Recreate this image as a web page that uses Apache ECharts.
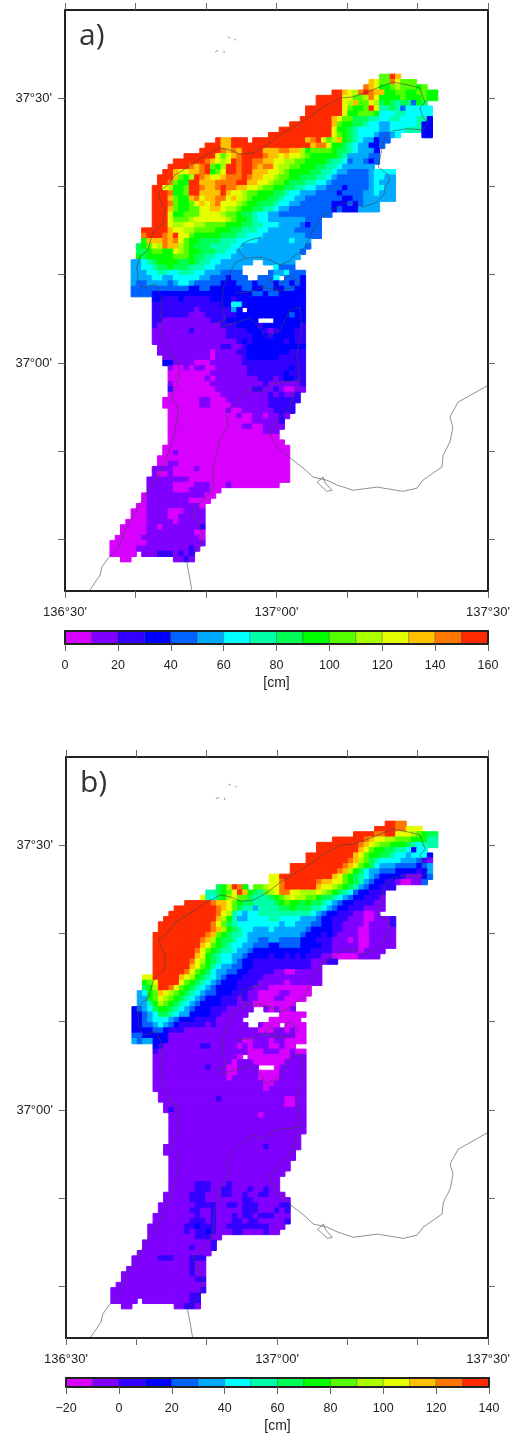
<!DOCTYPE html>
<html><head><meta charset="utf-8">
<style>html,body{margin:0;padding:0;background:#fff}#c{width:513px;height:1434px}</style>
<script src="https://cdn.jsdelivr.net/npm/echarts@6/dist/echarts.min.js"></script>
</head><body><div id="c"></div>
<script>
// class colours, 10 cm wide each
const palette = ['#d800ff','#8000ff','#3300ff','#0000ff','#0062ff','#00aaff','#00ffff','#00ffaa','#00ff55','#00ff00','#55ff00','#aaff00','#e6ff00','#ffc000','#ff7700','#ff2a00'];
// rows north to south: "first column : class of each cell"; x{n} = n repeats, '.' = no data
const rowsA = [
"60:aafd","58:dcaaecaaa","57:edc99abaaa9a","51:ffdcbefedd99aa99aa99","48:f{5}ccaabec9999a999a99","48:f{5}cbdaacb898788498",
"46:f{7}ca99afc77874 66666","46:f{7}c99aaa9666776{5}","45:f{6}dcaa888776677666773","43:f{8}da99887665566666733","41:f{10}c998766665566677733",
"39:f{12}ca98766654456....33","29:fddfff.f{10}defcabd987655 3 44","27:fffddf{14}fdeec99876553 34","26:ffffededffffdddeeddb9aaaa988765553",
"23:f{6}cacdeffffeddcdccba99999875555 44","21:f{6}edcbcfeffeeddccbbaa99998776455 434","20:ffffedefa9bffeffedeecbbaa9998877 65{6}",
"19:ffdccddef9acffeffdddccba9999887765544445 6666","18:fffda9bfedccdeeefeddccbaa998887765444444566 55","18:ffea99ffdddeeeeffddccbaa988877665444444456555",
"17:ffcb99affeddefeeddccbaa9988776655444 34444566 55","17:fffe99affddddfdccbaa9998876655544443444455 6555","17:fffda99decddeecdcba99988 7665544444443344555555",
"17:fffea99acdcdecccba9988876655444444333434555","17:fffda99aaccddcbba998877655444444443433 35555","17:fffc99aaaccccbaa98876655444444444 4",
"17:fffcaaabcccccc ba99876655555554 44","17:fffcbbccbbaaaa99988776665555 4344","15:f{5}dccbbaaaa99988777665555 544444","15:efffedfcc a 99999 888 77 666 5{8} 444",
"15:9dddedeca99888877766665{6}65 55","14:89acbeddba98887777665{12}4","14:889aa99cba99888776 65{12}4","14:9899999aaa98877666 5{13}",
"13:556789999889877665{6}..5{6}","13:55667889888777665{5}......6444","13:555667766777 66555 4444.....4556444","13:555566556666655 4443444..4446.4443",
"13:5445555 45665 44444 333 444 3 444 3 44 3 4 3","13:4{11}33443{6}44334433 4433","13:44443{19}44344 33333","17:33222322222333323{13}",
"17:2{13}33663{12}","17:2{8}12{6}53.3{11}","17:2{7}1112{6}3{10}433","17:221{9}2223{6}...3{6}","17:21{12}22233332 3{7}2","17:1{7}21{6}222233321233322",
"17:1{14}2{5}3332 33332 2","17:1{16}2323{6}2322","18:1{12}221123{11}","18:1{10}0111122 3{8}222","19:1{9}01{5}23{6}2{5}","19:33111100 01{6}2{12}",
"20:1001011001{6}2{8}322","20:0{8}1{7}2{7}3222","20:0{7}101{8}222123322","20:10{7}1{10}21{6}2","20:20{8}1{7}22112100 11","20:0{10}1{9}21211 2",
"19:0{7}110001{8}2{6}","19:0{7}110{4}1{7}2{5}","20:0{11}1001{6}2222","20:0{13}1001101 121","20:0{16}1{5}2","20:0{14}11001111","20:0{18}111","20:0{21}",
"20:0{22}","19:0{24}","19:0010{21}","18:0{25}","18:00110{21}","17:11110{4}10{17}","17:10010{22}","16:1{8}0{19}","16:1{5}0{4}1110001 0{9}",
"16:1{5}000111100","15:01{11}00","15:01{8}0{4}","14:001{10}0","13:00011110001111","13:00011110011111","12:00001{5}01{5}","11:0{5}1101{7}2",
"11:0{5}1{9}00","10:0{5}1{11}0","9:0{7}1{11}","9:0{5}1{10}21","9:0{5}.111222121 2","11:00........1121"
];
const rowsB = [
"61:ffee","59:ffffeeccc","55:ffffeeffcccba988","51:f{6}edccbbaaa99977","48:f{8}edcbaa99987 6777","48:f{8}dca99887 76366","46:f{9}dca9988766566 63",
"46:f{8}edba8766665554 21","43:f{10}edca986 555444434 5","43:f{9}edb986 554443333235","39:ccf{10}dca98765433332111 34","39:cce f{6}eddcca98754332210011 4",
"29:89bfe9.aabcce f{6}dccba987543 32 22","27:77 89acfd987abceeccbbbcba98764 33222","26:c768 9bcaa87778 9abcbbaa98876543 32221","23:f{5}eddca98877778 9a9989887 654332 22211",
"21:f{8}edca8775 77778 8988877654332221111","20:f{9}ecb76 566 7{10}654332221 1001","19:f{10}db97556666776666555433222111001112","18:f{10}eca87 6{8}566555443322 11110 11112",
"18:f{10}edb98766555 65{6}4333322111001{5}","17:f{10}eda98776 5{10}43332321 1110 01{5}","17:f{9}edb988766 55 44 55 4444 333 222 111 0 1 00 1{5}","17:f{9}dca9876655 444 33 4444 3333 22 11111 00 11111",
"17:f{8}eca98776554 3{11}2222111110 1111","17:f{8}dc98766554 3333233232 322211 000001111","17:f{7}ecb98 76654332{11}11122","17:f{7}dca97 65544332{11}11","17:f{6}eca986 554433 2{5}11001{5}",
"15:ccf{5}dcb9876 54333 22221{11}","15:9acffffca98765 4333 22221{5}01{6}","15:89bffeca98765 4333 322211 10{8}","14:569adcba98765 44333 22211000011 0000","14:559acba98 765433322212110 00110000","14:5579 ba98765 43333 222111 0{8}",
"13:34568 9987654 33322211111..10100 1","13:33456887655 3333221 1111......00000","13:33456665433322221 1111.....000000","13:33445654322222 121 11111..1000.0000","13:33334432221{14}00011 0100",
"13:44333331{24}00","13:54553331{14}001110110000","17:321{7}221{5}01011100 100","17:21{17}0001110 0100","17:1{16}0.0{8}111","17:1{15}0 1110{6}1111","17:1{10}211100 1111...01{5}","17:1{14}0011110 0001{5}","17:1{14}01{5}00001{5}",
"17:1{21}001{6}","17:1{21}01{7}","18:1{28}","18:1{11}21{12}0011","19:1{23}0011","19:121{25}","20:1{17}01{8}","20:1{26}","20:1{26}","20:1{26}","20:1{25}","20:1{25}","19:1{19}21{6}","19:1{25}","20:1{24}","20:1{23}","20:1{23}","20:1{22}","20:1{21}",
"20:1{5}2221 112 1{9}","20:1{5}222112 2111 2112 11","19:1{5}22211122112112211 1","19:1{5}2221{7}221{7}","18:1{7}22221122122 211 1122","18:1{6}22112 1{5}2221 1121 2","17:1{8}2112 1112 122 122 2111","17:1{7}2221 21112 212 21{5}2",
"16:1{7}2232 2211 2{8}111","16:1{7}212 232 1112 211112 11","16:1{9}22211","15:1{13}2","15:1{9}21112","14:1{14}","13:1{5}222111222","13:1{11}211","12:1{12}211","11:1{13}211","11:1{14}22","10:1{17}","9:1{17}2","9:1{15}22","9:1{5}.1{9}22","11:11........11221"
];
// coastline and boundary polylines, [longitude, latitude]
const westCoast = [[136.557,36.570],[136.583,36.600],[136.587,36.615],[136.602,36.632],[136.611,36.638],[136.630,36.657],[136.642,36.685],[136.670,36.723],[136.694,36.757],[136.720,36.785],[136.741,36.823],[136.760,36.868],[136.767,36.906],[136.765,36.921],[136.753,36.930],[136.753,36.940],[136.762,36.955],[136.769,36.974],[136.769,36.991],[136.765,37.006],[136.748,37.015],[136.743,37.028],[136.732,37.043],[136.725,37.072],[136.725,37.085],[136.729,37.106],[136.725,37.128],[136.717,37.143],[136.713,37.149],[136.684,37.141],[136.673,37.157],[136.670,37.181],[136.677,37.200],[136.696,37.213],[136.701,37.228],[136.708,37.247],[136.732,37.264],[136.736,37.289],[136.725,37.308],[136.720,37.321],[136.743,37.336],[136.760,37.355],[136.791,37.370],[136.826,37.389],[136.866,37.406],[136.890,37.402],[136.914,37.394],[136.944,37.396],[136.978,37.411],[137.008,37.430],[137.039,37.445],[137.079,37.464],[137.110,37.483],[137.150,37.500],[137.181,37.502],[137.214,37.511],[137.245,37.521],[137.275,37.530],[137.308,37.525],[137.339,37.519],[137.346,37.502],[137.351,37.492],[137.339,37.481],[137.346,37.464],[137.358,37.453],[137.346,37.440],[137.308,37.442],[137.275,37.438],[137.256,37.426],[137.249,37.402],[137.240,37.370],[137.264,37.355],[137.268,37.345],[137.256,37.332],[137.256,37.321],[137.238,37.304],[137.204,37.294],[137.190,37.302],[137.157,37.302],[137.143,37.294],[137.110,37.279],[137.091,37.257],[137.079,37.238],[137.063,37.213],[137.039,37.200],[137.027,37.191],[137.008,37.185],[136.985,37.194],[136.961,37.200],[136.926,37.198],[136.902,37.189],[136.890,37.170],[136.874,37.143],[136.871,37.113],[136.878,37.081],[136.859,37.077],[136.871,37.068],[136.897,37.075],[136.937,37.085],[136.961,37.066],[136.973,37.049],[137.008,37.062],[137.032,37.100],[137.056,37.106],[137.060,37.068],[137.048,37.015],[137.056,36.968],[137.044,36.949],[137.032,36.917],[137.001,36.892],[136.985,36.877],[136.989,36.860],[137.001,36.841],[137.032,36.821],[137.063,36.802],[137.086,36.785],[137.119,36.779],[137.143,36.770],[137.181,36.760],[137.238,36.766],[137.299,36.758],[137.332,36.764],[137.346,36.779],[137.391,36.804],[137.394,36.826],[137.410,36.851],[137.417,36.879],[137.410,36.898],[137.429,36.926],[137.498,36.957]];
const boundary = [[137.056,36.968],[136.992,36.962],[136.968,36.945],[136.944,36.953],[136.921,36.940],[136.895,36.921],[136.883,36.906],[136.885,36.879],[136.866,36.855],[136.850,36.804],[136.850,36.766],[136.843,36.755],[136.819,36.736],[136.800,36.723],[136.814,36.698],[136.826,36.679],[136.819,36.653],[136.788,36.624],[136.796,36.590],[136.800,36.570]];
const notoIsland = [[136.966,37.238],[136.937,37.232],[136.921,37.226],[136.909,37.213],[136.926,37.198]];
const bayLoop = [[136.902,37.132],[136.937,37.134],[136.968,37.143],[136.985,37.160],[137.001,37.138],[137.027,37.166],[137.051,37.153],[137.039,37.143],[137.008,37.136],[136.968,37.143]];
const islet = [[137.096,36.775],[137.110,36.785],[137.115,36.774],[137.131,36.760],[137.119,36.758],[137.103,36.770],[137.096,36.775]];
const hegura1 = [[136.855,37.587],[136.862,37.590]];
const hegura2 = [[136.876,37.585],[136.876,37.589]];
const hegura3 = [[136.885,37.615],[136.890,37.613]];
const hegura4 = [[136.900,37.609],[136.904,37.611]];
const coastLines = [westCoast, boundary, notoIsland, bayLoop, islet, hegura1, hegura2, hegura3, hegura4];
// axes
const lonMin = 136.5, lonMax = 137.5, latMin = 36.57, latMax = 37.666;
const lonTicks = [136.5,136.6667,136.8333,137,137.1667,137.3333,137.5];
const lonLabels = [136.5,137,137.5];
const latTicks = [36.6667,36.8333,37,37.1667,37.3333,37.5];
const latLabels = [37,37.5];
const topRowLat = 37.54, latStep = 0.01, lonStep = 0.0125;
const binWidth = 10, binCount = 16;
const barMinA = 0, barMinB = -20;
const FRAME = '#222', TICK = '#666', TXT = '#222', FONT = '"Liberation Sans",Arial,sans-serif';

function parseRows(rows, base) {
  const out = [];
  rows.forEach((r, m) => {
    const i = r.indexOf(':'); let n = +r.slice(0, i);
    const s = r.slice(i + 1).replace(/ /g, '').replace(/(.)\{(\d+)\}/g, (a, c, k) => c.repeat(+k));
    for (const c of s) {
      if (c !== '.') out.push([lonMin + n * lonStep, topRowLat - m * latStep, base + parseInt(c, 16) * binWidth + binWidth / 2]);
      n++;
    }
  });
  return out;
}
function fmt(v) {
  const d = Math.floor(v + 1e-6), mm = Math.round((v - d) * 60);
  return d + '°' + String(mm).padStart(2, '0') + "'";
}
const option = { animation: false, backgroundColor: '#fff', grid: [], xAxis: [], yAxis: [], series: [], graphic: [] };
function addMap(left, top, rows, base, letter) {
  const g = option.grid.length;
  option.grid.push({ left, top, width: 423, height: 581 });
  const xi = option.xAxis.length, yi = option.yAxis.length;
  const line = { show: true, onZero: false, lineStyle: { color: FRAME, width: 2 } };
  const tick = (vals) => ({ show: true, length: 7, customValues: vals, lineStyle: { color: TICK, width: 1 } });
  const xa = { type: 'value', gridIndex: g, min: lonMin, max: lonMax, splitLine: { show: false }, axisLine: line, axisTick: tick(lonTicks), z: 10 };
  option.xAxis.push(Object.assign({}, xa, { position: 'bottom', axisLabel: { customValues: lonLabels, formatter: fmt, fontSize: 13, color: TXT, fontFamily: FONT, margin: 15, showMinLabel: true, showMaxLabel: true } }));
  option.xAxis.push(Object.assign({}, xa, { position: 'top', axisLabel: { show: false } }));
  const ya = { type: 'value', gridIndex: g, min: latMin, max: latMax, splitLine: { show: false }, axisLine: line, axisTick: tick(latTicks), z: 10 };
  option.yAxis.push(Object.assign({}, ya, { position: 'left', axisLabel: { customValues: latLabels, formatter: fmt, fontSize: 13, color: TXT, fontFamily: FONT, margin: 13 } }));
  option.yAxis.push(Object.assign({}, ya, { position: 'right', axisLabel: { show: false } }));
  option.series.push({
    type: 'custom', xAxisIndex: xi, yAxisIndex: yi, silent: true, clip: true, z: 2,
    data: parseRows(rows, base), encode: { x: 0, y: 1 },
    renderItem(params, api) {
      const lon = api.value(0), lat = api.value(1), v = api.value(2);
      const p = api.coord([lon - lonStep / 2, lat + latStep / 2]), q = api.coord([lon + lonStep / 2, lat - latStep / 2]);
      const col = palette[Math.floor((v - base) / binWidth)];
      return { type: 'rect', shape: { x: p[0], y: p[1], width: q[0] - p[0], height: q[1] - p[1] }, style: { fill: col, stroke: col, lineWidth: 1 } };
    }
  });
  coastLines.forEach(c => option.series.push({
    type: 'line', xAxisIndex: xi, yAxisIndex: yi, data: c, silent: true, showSymbol: false, symbol: 'none', z: 5,
    lineStyle: { color: '#444', width: 0.6 }
  }));
  option.graphic.push({ type: 'text', left: left + 14, top: top + 11, z: 20, style: { text: letter, font: '400 30px "Open Sans",sans-serif', fill: '#333' } });
}
function addBar(left, top, base) {
  const g = option.grid.length;
  option.grid.push({ left, top, width: 423, height: 13 });
  const xi = option.xAxis.length, yi = option.yAxis.length;
  const line = { show: true, onZero: false, lineStyle: { color: FRAME, width: 2 } };
  const bins = palette.map((_, i) => [base + i * binWidth, base + (i + 1) * binWidth]);
  const xa = { type: 'value', gridIndex: g, min: base, max: base + binCount * binWidth, interval: 20, splitLine: { show: false }, axisLine: line, z: 10 };
  option.xAxis.push(Object.assign({}, xa, { position: 'bottom', axisTick: { length: 7, lineStyle: { color: TICK } },
    axisLabel: { fontSize: 12.5, color: TXT, fontFamily: FONT, margin: 15, formatter: v => String(v).replace('-', '\u2212'), showMinLabel: true, showMaxLabel: true },
    name: '[cm]', nameLocation: 'middle', nameGap: 32, nameTextStyle: { fontSize: 14, color: TXT, fontFamily: FONT } }));
  option.xAxis.push(Object.assign({}, xa, { position: 'top', axisTick: { show: false }, axisLabel: { show: false } }));
  const ya = { type: 'value', gridIndex: g, min: 0, max: 1, splitLine: { show: false }, axisLine: line, axisTick: { show: false }, axisLabel: { show: false }, z: 10 };
  option.yAxis.push(Object.assign({}, ya, { position: 'left' }));
  option.yAxis.push(Object.assign({}, ya, { position: 'right' }));
  option.series.push({
    type: 'custom', xAxisIndex: xi, yAxisIndex: yi, silent: true, z: 2, data: bins, encode: { x: [0, 1] },
    renderItem(params, api) {
      const p = api.coord([api.value(0), 1]), q = api.coord([api.value(1), 0]);
      return { type: 'rect', shape: { x: p[0], y: p[1], width: q[0] - p[0], height: q[1] - p[1] }, style: { fill: palette[params.dataIndex], stroke: 'rgba(0,0,0,0.45)', lineWidth: 0.5 } };
    }
  });
}
addMap(65, 10, rowsA, barMinA, 'a)');
addBar(65, 631, barMinA);
addMap(66, 757, rowsB, barMinB, 'b)');
addBar(66, 1378, barMinB);
echarts.init(document.getElementById('c'), null, { renderer: 'canvas' }).setOption(option);
</script></body></html>
